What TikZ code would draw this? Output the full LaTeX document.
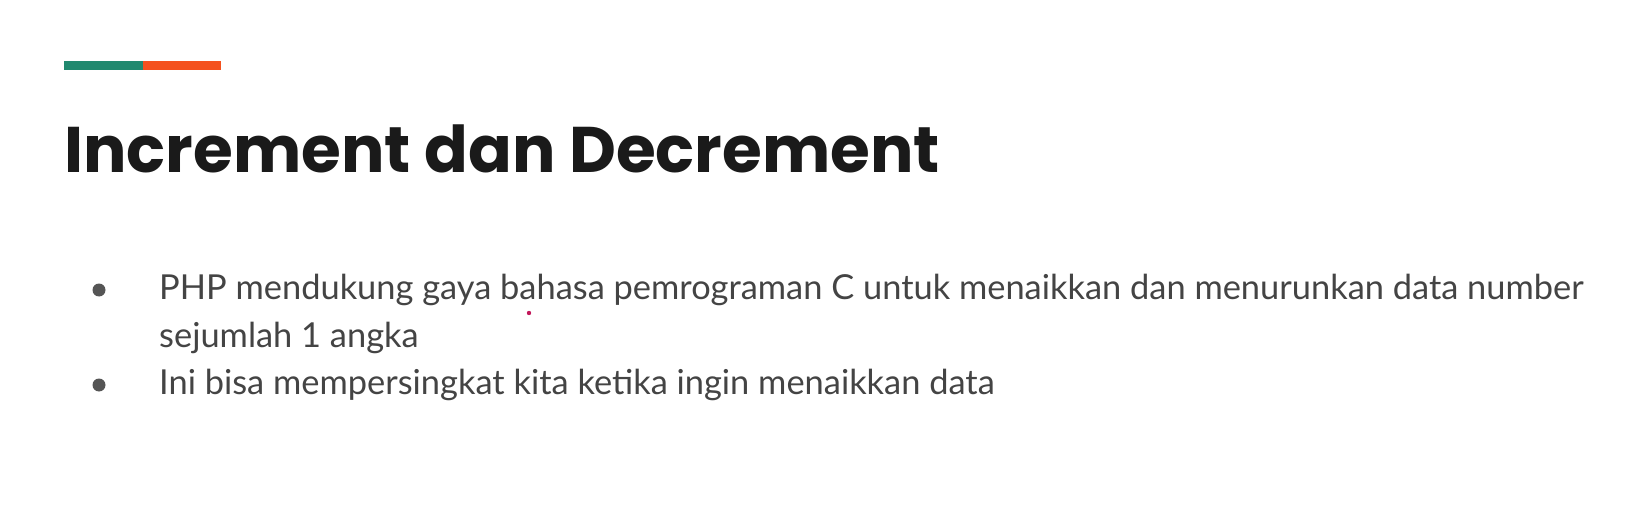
\documentclass[tikz,border=0pt]{standalone}
\usepackage{fontspec}
\setmainfont{Lato}
\newfontfamily\titlefont{Poppins}
\definecolor{barGreen}{HTML}{21896F}
\definecolor{barOrange}{HTML}{F4511E}
\definecolor{titleInk}{HTML}{1A1A1A}
\definecolor{bodyInk}{HTML}{444444}
\definecolor{bulletInk}{HTML}{555555}
\definecolor{dotInk}{HTML}{C2185B}
\tikzset{
  bodytext/.style={anchor=base west, inner sep=0pt, text=bodyInk, font=\fontsize{34.4}{40}\selectfont},
  bulletdot/.style={circle, fill=bulletInk, inner sep=0pt, minimum size=13pt},
  titletext/.style={anchor=base west, inner sep=0pt, text=titleInk, font=\titlefont\bfseries\fontsize{64.5}{76}\selectfont}
}
\begin{document}
\begin{tikzpicture}[x=1pt,y=1pt]
\useasboundingbox[fill=white] (0,0) rectangle (1639,-513);
\fill[barGreen] (64,-61) rectangle (143,-70);
\fill[barOrange] (143,-61) rectangle (221,-70);
\node[titletext] (title) at (64,-173) {Increment dan Decrement};
\node[bulletdot] (b1) at (99,-290) {};
\node[bulletdot] (b2) at (99,-385) {};
\node[bodytext] (l1) at (159,-299) {PHP mendukung gaya bahasa pemrograman C untuk menaikkan dan menurunkan data number};
\node[bodytext] (l2) at (159,-347) {sejumlah 1 angka};
\node[bodytext] (l3) at (159,-394) {Ini bisa mempersingkat kita ketika ingin menaikkan data};
\fill[dotInk] (529,-313) circle (2.2);
\end{tikzpicture}
\end{document}
